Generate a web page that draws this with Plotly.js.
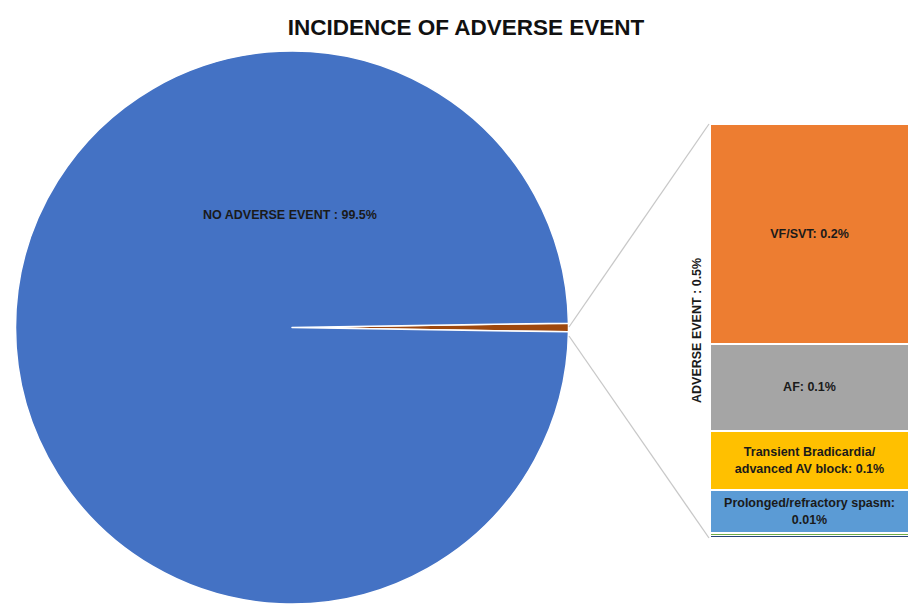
<!DOCTYPE html>
<html>
<head>
<meta charset="utf-8">
<script src="https://cdn.plot.ly/plotly-3.0.1.min.js"></script>
<style>html,body{margin:0;padding:0;background:#fff;}#chart{width:909px;height:604px;}</style>
</head>
<body>
<div id="chart"></div>
<script>
// Pie data (percent of all cases)
const pieLabels = ["ADVERSE EVENT", "NO ADVERSE EVENT"];
const pieValues = [0.5, 99.5];
const pieColors = ["#9E480E", "#4472C4"];

// Breakdown of adverse events (bar heights, bottom to top)
const barCategories = ["Other 2", "Other 1", "Prolonged/refractory spasm", "Transient Bradicardia/advanced AV block", "AF", "VF/SVT"];
const barValues = [0.003, 0.003, 0.051, 0.070, 0.103, 0.261];
const barTexts = ["", "", "Prolonged/refractory spasm:<br>0.01%", "Transient Bradicardia/<br>advanced AV block: 0.1%", "AF: 0.1%", "VF/SVT: 0.2%"];
const barColors = ["#264478", "#70AD47", "#5B9BD5", "#FFC000", "#A5A5A5", "#ED7D31"];

const W = 909, H = 604;
const px = x => x / W, py = y => 1 - y / H;

const traces = [{
  type: "pie",
  labels: pieLabels,
  values: pieValues,
  sort: false,
  direction: "clockwise",
  rotation: 90 - pieValues[0] * 3.6 / 2,
  marker: {colors: pieColors, line: {color: "#ffffff", width: 1.5}},
  textinfo: "none",
  hoverinfo: "label+percent",
  showlegend: false,
  domain: {x: [px(15), px(569)], y: [0, py(51)]}
}];

barCategories.forEach((c, i) => {
  traces.push({
    type: "bar",
    name: c,
    x: [0],
    y: [barValues[i]],
    width: 1,
    xaxis: "x",
    yaxis: "y",
    marker: {color: barColors[i], line: {color: "#ffffff", width: 1.5}},
    text: [barTexts[i]],
    textposition: barTexts[i] ? "inside" : "none",
    insidetextanchor: "middle",
    textfont: {family: "Liberation Sans, Arial, sans-serif", size: 12.5, color: "#1a1a1a", weight: "bold"},
    showlegend: false,
    hoverinfo: "name"
  });
});

const layout = {
  width: W, height: H,
  margin: {l: 0, r: 0, t: 0, b: 0},
  paper_bgcolor: "#ffffff",
  plot_bgcolor: "rgba(0,0,0,0)",
  barmode: "stack",
  bargap: 0,
  font: {family: "Liberation Sans, Arial, sans-serif", color: "#1a1a1a"},
  title: {
    text: "<b>INCIDENCE OF ADVERSE EVENT</b>",
    font: {size: 22.5, color: "#111111"},
    x: 466 / W, xanchor: "center",
    y: py(27), yanchor: "middle"
  },
  xaxis: {domain: [px(710), 1], range: [-0.5, 0.5], visible: false, fixedrange: true},
  yaxis: {domain: [py(538), py(124)], range: [0, 0.491], visible: false, fixedrange: true},
  shapes: [
    {type: "line", xref: "paper", yref: "paper", x0: px(569), y0: py(327), x1: px(709), y1: py(124), line: {color: "#c8c8c8", width: 1.3}},
    {type: "line", xref: "paper", yref: "paper", x0: px(569), y0: py(336), x1: px(709), y1: py(538), line: {color: "#c8c8c8", width: 1.3}}
  ],
  annotations: [
    {text: "<b>NO ADVERSE EVENT : 99.5%</b>", xref: "paper", yref: "paper", x: px(290), y: py(215), xanchor: "center", yanchor: "middle", showarrow: false, font: {size: 12.5, color: "#1a1a1a"}},
    {text: "<b>ADVERSE EVENT : 0.5%</b>", xref: "paper", yref: "paper", x: px(697), y: py(331), xanchor: "center", yanchor: "middle", textangle: -90, showarrow: false, font: {size: 12.5, color: "#1a1a1a"}}
  ]
};

Plotly.newPlot("chart", traces, layout, {displayModeBar: false, staticPlot: true});
</script>
</body>
</html>
